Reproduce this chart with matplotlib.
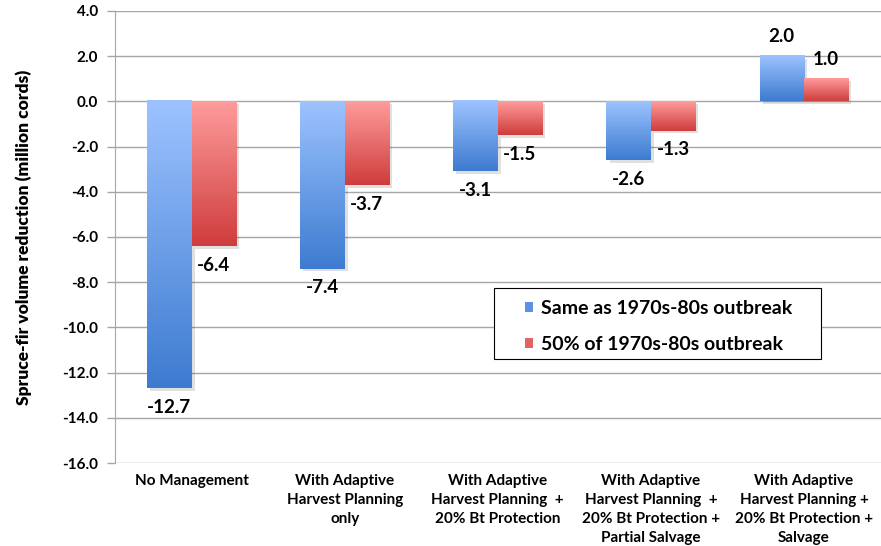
import numpy as np
import matplotlib
matplotlib.use("Agg")
import matplotlib.pyplot as plt
from matplotlib.colors import LinearSegmentedColormap
from matplotlib.patches import Rectangle

plt.rcParams['font.family'] = ['Lato', 'DejaVu Sans']

# Data
categories = [
    "No Management",
    "With Adaptive\nHarvest Planning\nonly",
    "With Adaptive\nHarvest Planning  +\n20% Bt Protection",
    "With Adaptive\nHarvest Planning  +\n20% Bt Protection +\nPartial Salvage",
    "With Adaptive\nHarvest Planning +\n20% Bt Protection +\nSalvage",
]
same_outbreak = [-12.7, -7.4, -3.1, -2.6, 2.0]
half_outbreak = [-6.4, -3.7, -1.5, -1.3, 1.0]
series_names = ["Same as 1970s-80s outbreak", "50% of 1970s-80s outbreak"]

blue_cmap = LinearSegmentedColormap.from_list("b", ["#9dc3ff", "#3d7bd0"])
red_cmap = LinearSegmentedColormap.from_list("r", ["#ff9c9c", "#cf3c3c"])

fig = plt.figure(figsize=(8.81, 5.46), dpi=100)
ax = fig.add_axes([0.1305, 0.152, 0.869, 0.828])

x = np.arange(len(categories))
w = 0.29
grad = np.linspace(0, 1, 256).reshape(-1, 1)


def gradient_bars(xpos, vals, cmap, offset):
    for xi, v in zip(xpos, vals):
        x0 = xi + offset - w / 2
        top, bot = max(v, 0), min(v, 0)
        # soft shadow
        ax.add_patch(Rectangle((x0 + 0.02, bot - 0.12), w, top - bot,
                               facecolor="#000000", alpha=0.12, lw=0, zorder=2))
        ax.imshow(grad, cmap=cmap, aspect="auto", origin="upper",
                  extent=(x0, x0 + w, bot, top), zorder=3, interpolation="bicubic")
        lab_y = v + 0.85 if v > 0 else v - 0.85
        ax.text(xi + offset, lab_y, f"{v:.1f}", ha="center", va="center",
                fontsize=13.5, fontweight="bold", color="black", zorder=5)


gradient_bars(x, same_outbreak, blue_cmap, -w / 2)
gradient_bars(x, half_outbreak, red_cmap, w / 2)

ax.set_xlim(-0.5, len(categories) - 0.5)
ax.set_ylim(-16, 4)
ax.set_yticks(np.arange(-16, 4.1, 2))
ax.set_yticklabels([f"{t:.1f}" for t in np.arange(-16, 4.1, 2)],
                   fontsize=11, fontweight="bold")
ax.yaxis.grid(True, color="#a6a6a6", lw=1.0)
ax.set_axisbelow(True)
ax.set_xticks(x)
ax.set_xticklabels(categories, fontsize=11, fontweight="bold", linespacing=1.45,
                   va="top")
ax.tick_params(axis="x", length=0, pad=8)
ax.tick_params(axis="y", length=6, color="#a6a6a6", width=1, pad=6)
for s in ["top", "right", "bottom"]:
    ax.spines[s].set_visible(False)
ax.spines["left"].set_color("#a6a6a6")
ax.set_ylabel("Spruce-fir volume reduction (million cords)", fontsize=12.5,
              fontweight="heavy", labelpad=22)

# legend frame drawn separately so its padding matches the reference
ax.add_patch(Rectangle((0.4948, 0.2301), 0.4269, 0.1571, transform=ax.transAxes,
                       facecolor="white", edgecolor="black", lw=0.8, zorder=6))
handles = [Rectangle((0, 0), 1, 1, facecolor="#5b90e4"),
           Rectangle((0, 0), 1, 1, facecolor="#e06464")]
leg = ax.legend(handles, series_names, loc="upper left",
                bbox_to_anchor=(0.5352, 0.361), frameon=False,
                prop={"size": 14, "weight": "bold"}, handlelength=0.42,
                handleheight=0.42, handletextpad=0.4, borderpad=0,
                labelspacing=0.98, borderaxespad=0)
leg.set_zorder(7)

fig.savefig("out.png", dpi=100)
